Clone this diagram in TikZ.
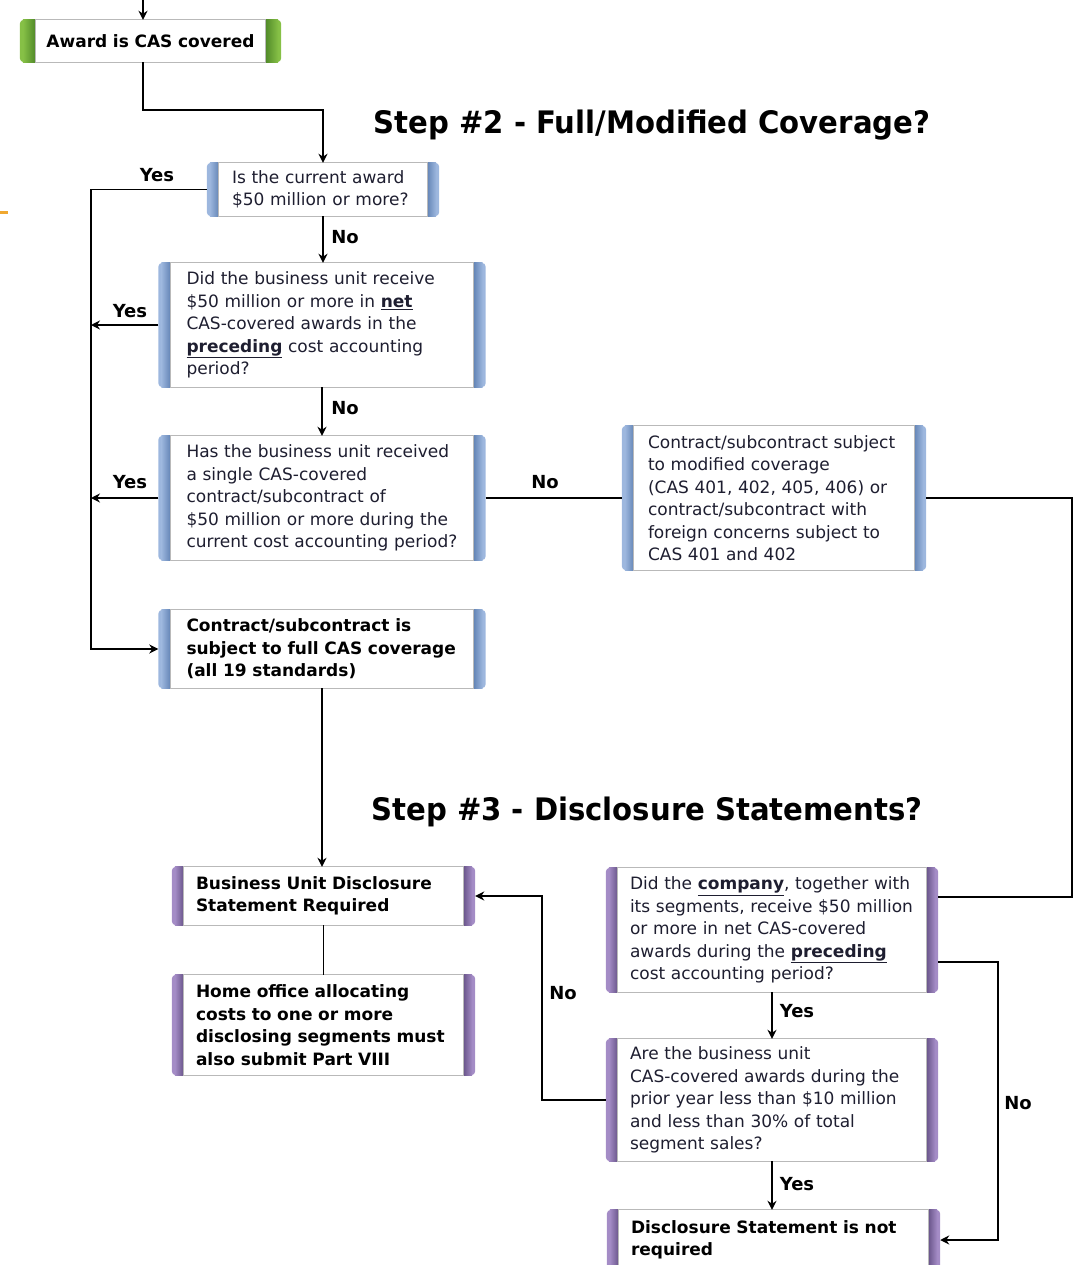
\documentclass[tikz,border=0pt]{standalone}
\usepackage{fontspec}
\setmainfont{DejaVu Sans}
\usetikzlibrary{arrows.meta,backgrounds}
\definecolor{blueL}{HTML}{9DB7DE}
\definecolor{blueD}{HTML}{6485B6}
\definecolor{purL}{HTML}{A48CC6}
\definecolor{purD}{HTML}{685489}
\definecolor{grnL}{HTML}{86C046}
\definecolor{grnD}{HTML}{4F8828}
\definecolor{txt}{HTML}{1E1E30}
\definecolor{orangemark}{HTML}{F0A830}
\tikzset{
  x=1pt, y=-1pt,
  bodyfont/.style={font=\fontsize{17}{22.5}\selectfont},
  boldfont/.style={font=\fontsize{17}{22.5}\selectfont\bfseries},
  box/.style={rectangle, inner ysep=0pt, align=left, text=txt, bodyfont},
  bbox/.style={box, text=black, boldfont},
  lbl/.style={font=\fontsize{18}{20}\selectfont\bfseries, inner sep=0pt},
  ttl/.style={font=\fontsize{31}{34}\selectfont\bfseries, inner sep=0pt},
  conn/.style={line width=1.8pt, black},
  arr/.style={conn, -{Stealth[length=9pt,width=9pt]}},
}
\newcommand\ttltext[1]{\scalebox{0.94}[1]{#1}}
\newcommand\deco[4]{%
  \fill[rounded corners=4pt,#2] (#1.north west) rectangle (#1.south east);
  \shade[left color=#2,right color=#3] ([xshift=3pt]#1.north west) rectangle ([xshift=#4]#1.south west);
  \shade[left color=#3,right color=#2] ([xshift=-#4]#1.north east) rectangle ([xshift=-3pt]#1.south east);
  \fill[white,draw=gray!55,line width=0.8pt] ([xshift=#4]#1.north west) rectangle ([xshift=-#4]#1.south east);
}
\begin{document}
\begin{tikzpicture}
\useasboundingbox (0,0) rectangle (1081,1265);
% boxes
\node[bbox, align=center, text width=237pt, inner xsep=12pt, minimum height=42pt] (award) at (150.5,41) {Award is CAS covered};
\node[box, text width=182pt, inner xsep=25pt, minimum height=53pt] (q1) at (323,189.5) {Is the current award\\ \$50 million or more?};
\node[box, text width=271pt, inner xsep=28pt, minimum height=124pt] (q2) at (322,325) {Did the business unit receive\\ \$50 million or more in \underline{\textbf{net}}\\ CAS-covered awards in the\\ \underline{\textbf{preceding}} cost accounting\\ period?};
\node[box, text width=271pt, inner xsep=28pt, minimum height=124pt] (q3) at (322,498) {Has the business unit received\\ a single CAS-covered\\ contract/subcontract of\\ \$50 million or more during the\\ current cost accounting period?};
\node[box, text width=252pt, inner xsep=26pt, minimum height=144pt] (mod) at (774,498) {Contract/subcontract subject\\ to modified coverage\\ (CAS 401, 402, 405, 406) or\\ contract/subcontract with\\ foreign concerns subject to\\ CAS 401 and 402};
\node[bbox, text width=271pt, inner xsep=28pt, minimum height=78pt] (full) at (322,649) {Contract/subcontract is\\ subject to full CAS coverage\\ (all 19 standards)};
\node[bbox, text width=255pt, inner xsep=24pt, minimum height=58pt] (bud) at (323.5,896) {Business Unit Disclosure\\ Statement Required};
\node[bbox, text width=255pt, inner xsep=24pt, minimum height=100pt] (home) at (323.5,1025) {Home office allocating\\ costs to one or more\\ disclosing segments must\\ also submit Part VIII};
\node[box, text width=284pt, inner xsep=24pt, minimum height=124pt] (comp) at (772,930) {Did the \underline{\textbf{company}}, together with\\ its segments, receive \$50 million\\ or more in net CAS-covered\\ awards during the \underline{\textbf{preceding}}\\ cost accounting period?};
\node[box, text width=284pt, inner xsep=24pt, minimum height=122pt] (buq) at (772,1100) {Are the business unit\\ CAS-covered awards during the\\ prior year less than \$10 million\\ and less than 30\% of total\\ segment sales?};
\node[bbox, text width=285pt, inner xsep=24pt, minimum height=60pt] (notr) at (773.5,1240) {Disclosure Statement is not\\ required};
% decorations behind
\begin{scope}[on background layer]
  \deco{award}{grnL}{grnD}{16pt}
  \deco{q1}{blueL}{blueD}{12pt}
  \deco{q2}{blueL}{blueD}{12pt}
  \deco{q3}{blueL}{blueD}{12pt}
  \deco{mod}{blueL}{blueD}{12pt}
  \deco{full}{blueL}{blueD}{12pt}
  \deco{bud}{purL}{purD}{12pt}
  \deco{home}{purL}{purD}{12pt}
  \deco{comp}{purL}{purD}{12pt}
  \deco{buq}{purL}{purD}{12pt}
  \deco{notr}{purL}{purD}{12pt}
\end{scope}
% titles
\node[ttl] (t2) at (652,125) {\ttltext{Step \#2 - Full/Modified Coverage?}};
\node[ttl] (t3) at (647,812) {\ttltext{Step \#3 - Disclosure Statements?}};
% helper coordinates
\coordinate (top) at (143,0);
\coordinate (lx) at (91,0);
\coordinate (rx) at (1072,0);
\coordinate (rx2) at (998,0);
\coordinate (mx) at (542,0);
\coordinate (ml) at (0,213);
\coordinate (mr) at (8,213);
\draw[orangemark, line width=3pt] (ml) -- (mr);
% connectors
\draw[arr] (top) -- (top |- award.north);
\draw[arr] (top |- award.south) -- ++(0,48) -| (q1.north);
\draw[arr] (q1.west) -- (q1.west -| lx) |- (full.west);
\draw[arr] (q1.south) -- (q1.south |- q2.north);
\draw[arr] (q2.west) -- (q2.west -| lx);
\draw[arr] (q2.south) -- (q2.south |- q3.north);
\draw[arr] (q3.west) -- (q3.west -| lx);
\draw[conn] (q3.east) -- (q3.east -| mod.west);
\draw[conn] (mod.east) -- (mod.east -| rx) |- ([yshift=33pt]comp.east);
\draw[arr] (full.south) -- (full.south |- bud.north);
\draw[conn] (bud.south) -- (bud.south |- home.north);
\draw[arr] (comp.south) -- (comp.south |- buq.north);
\draw[arr] ([yshift=-32pt]comp.east) -| (rx2 |- notr.east) -- (notr.east);
\draw[arr] (buq.west) -| (mx |- bud.east) -- (bud.east);
\draw[arr] (buq.south) -- (buq.south |- notr.north);
% labels
\node[lbl] (l1) at (157,175) {Yes};
\node[lbl] (l2) at (345,237) {No};
\node[lbl] (l3) at (130,311) {Yes};
\node[lbl] (l4) at (345,408) {No};
\node[lbl] (l5) at (130,482) {Yes};
\node[lbl] (l6) at (545,482) {No};
\node[lbl] (l7) at (797,1011) {Yes};
\node[lbl] (l8) at (563,993) {No};
\node[lbl] (l9) at (797,1184) {Yes};
\node[lbl] (l10) at (1018,1103) {No};
\end{tikzpicture}
\end{document}
